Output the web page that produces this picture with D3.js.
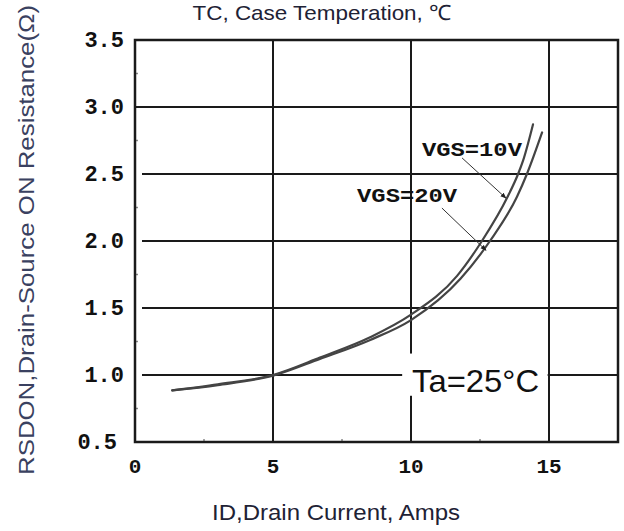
<!DOCTYPE html>
<html lang="en">
<head>
  <meta charset="UTF-8">
  <title>RDS(on) vs Drain Current</title>
  <style>
    body { margin: 0; background: #fff; }
    #chart { width: 624px; height: 531px; }
    .tick-label { font-family: "Liberation Mono", "DejaVu Sans Mono", monospace; font-weight: bold; fill: #111; }
    .title { font-family: "Liberation Sans", Arial, sans-serif; }
  </style>
</head>
<body>

<div id="chart"></div>

<script src="https://d3js.org/d3.v7.min.js"></script>
<script>

const width = 624;
const height = 531;

// axis ticks
const xTicks = [0, 5, 10, 15];
const yTicks = [0.5, 1.0, 1.5, 2.0, 2.5, 3.0, 3.5];
const xMinor = [2.5, 7.5, 12.5];
const yMinor = [0.75, 1.25, 1.75, 2.25, 2.75, 3.25];

// curves: [ID (A), RDS(on) (ohm)]
const vgs10 = [[1.35, 0.885], [3, 0.93], [5, 1.0], [6.7, 1.13], [8.5, 1.28], [10, 1.45],
  [11.67, 1.74], [12.57, 2.0], [13.5, 2.33], [13.88, 2.5], [14.06, 2.6], [14.42, 2.87]];
const vgs20 = [[1.35, 0.885], [3, 0.925], [5, 0.995], [6.7, 1.12], [8.5, 1.26], [10, 1.41],
  [11.8, 1.72], [12.86, 2.0], [13.84, 2.33], [14.2, 2.5], [14.75, 2.81]];

// annotations (data units)
const labels = [
  { text: "VGS=10V", x: 14.02, y: 2.634, from: [11.85, 2.62], to: [13.44, 2.32] },
  { text: "VGS=20V", x: 11.67, y: 2.29, from: [11.12, 2.246], to: [12.72, 1.93] }
];

const margin = { left: 135, right: 6, top: 40, bottom: 89 };

const x = d3.scaleLinear().domain([0, 17.5]).range([margin.left, width - margin.right]);
const y = d3.scaleLinear().domain([0.5, 3.5]).range([height - margin.bottom, margin.top]);

const svg = d3.select("#chart").append("svg")
  .attr("width", width)
  .attr("height", height);

// grid
svg.selectAll(".vgrid")
  .data(xTicks.slice(1))
  .enter().append("line")
  .attr("x1", d => x(d)).attr("x2", d => x(d))
  .attr("y1", y(3.5)).attr("y2", y(0.5))
  .attr("stroke", "#1a1a1a").attr("stroke-width", 2);

svg.selectAll(".hgrid")
  .data(yTicks.slice(1, -1))
  .enter().append("line")
  .attr("x1", d => d === 3.0 ? x(0) : x(0) + 7).attr("x2", x(17.5))
  .attr("y1", d => y(d)).attr("y2", d => y(d))
  .attr("stroke", "#1a1a1a").attr("stroke-width", 2);

// minor ticks
svg.selectAll(".ymin")
  .data(yMinor)
  .enter().append("line")
  .attr("x1", x(0)).attr("x2", x(0) + 3)
  .attr("y1", d => y(d)).attr("y2", d => y(d))
  .attr("stroke", "#888").attr("stroke-width", 1.5);

svg.selectAll(".xmin")
  .data(xMinor)
  .enter().append("line")
  .attr("x1", d => x(d)).attr("x2", d => x(d))
  .attr("y1", y(0.5)).attr("y2", y(0.5) - 3)
  .attr("stroke", "#888").attr("stroke-width", 1.5);

// frame
svg.append("rect")
  .attr("x", x(0)).attr("y", y(3.5))
  .attr("width", x(17.5) - x(0)).attr("height", y(0.5) - y(3.5))
  .attr("fill", "none").attr("stroke", "#1a1a1a").attr("stroke-width", 2.5);

// curves
const line = d3.line()
  .x(d => x(d[0]))
  .y(d => y(d[1]))
  .curve(d3.curveMonotoneX);

[vgs10, vgs20].forEach(series => {
  svg.append("path")
    .datum(series)
    .attr("d", line)
    .attr("fill", "none")
    .attr("stroke", "#444")
    .attr("stroke-width", 2.2)
    .attr("stroke-linecap", "round");
});

// arrows + labels
svg.append("defs").append("marker")
  .attr("id", "head")
  .attr("viewBox", "0 0 10 10")
  .attr("refX", 9).attr("refY", 5)
  .attr("markerWidth", 6).attr("markerHeight", 6)
  .attr("orient", "auto")
  .append("path")
  .attr("d", "M0,1L10,5L0,9Z")
  .attr("fill", "#222");

labels.forEach(l => {
  svg.append("line")
    .attr("x1", x(l.from[0])).attr("y1", y(l.from[1]))
    .attr("x2", x(l.to[0])).attr("y2", y(l.to[1]))
    .attr("stroke", "#333").attr("stroke-width", 1)
    .attr("marker-end", "url(#head)");
  svg.append("text")
    .attr("class", "tick-label")
    .attr("x", x(l.x)).attr("y", y(l.y))
    .attr("text-anchor", "end")
    .attr("font-size", 21)
    .attr("textLength", 100)
    .attr("lengthAdjust", "spacingAndGlyphs")
    .text(l.text);
});

// Ta=25°C box
svg.append("rect")
  .attr("x", x(9.68)).attr("y", y(1.16))
  .attr("width", x(14.95) - x(9.68)).attr("height", y(0.845) - y(1.16))
  .attr("fill", "#fff");

svg.append("text")
  .attr("class", "title")
  .attr("x", x(10.04)).attr("y", y(0.873))
  .attr("font-size", 32)
  .attr("textLength", 127)
  .attr("lengthAdjust", "spacingAndGlyphs")
  .attr("fill", "#111")
  .text("Ta=25°C");

// tick labels
svg.selectAll(".ylab")
  .data(yTicks)
  .enter().append("text")
  .attr("class", "tick-label")
  .attr("x", d => d === 0.5 ? 117 : 124)
  .attr("y", d => y(d) + 7)
  .attr("text-anchor", "end")
  .attr("font-size", 22)
  .text(d => d.toFixed(1));

svg.selectAll(".xlab")
  .data(xTicks)
  .enter().append("text")
  .attr("class", "tick-label")
  .attr("x", d => x(d))
  .attr("y", 473)
  .attr("text-anchor", "middle")
  .attr("font-size", 21)
  .text(d => d);

// axis titles
svg.append("text")
  .attr("class", "title")
  .attr("x", 322).attr("y", 20)
  .attr("text-anchor", "middle")
  .attr("font-size", 21)
  .attr("textLength", 259)
  .attr("lengthAdjust", "spacingAndGlyphs")
  .attr("fill", "#1e2235")
  .text("TC, Case Temperation, ℃");

svg.append("text")
  .attr("class", "title")
  .attr("x", 336).attr("y", 520)
  .attr("text-anchor", "middle")
  .attr("font-size", 22)
  .attr("textLength", 248)
  .attr("lengthAdjust", "spacingAndGlyphs")
  .attr("fill", "#1e2235")
  .text("ID,Drain Current, Amps");

svg.append("text")
  .attr("class", "title")
  .attr("transform", "translate(34,240) rotate(-90)")
  .attr("text-anchor", "middle")
  .attr("font-size", 22)
  .attr("textLength", 470)
  .attr("lengthAdjust", "spacingAndGlyphs")
  .attr("fill", "#3a4160")
  .text("RSDON,Drain-Source ON Resistance(Ω)");

</script>

</body>
</html>
